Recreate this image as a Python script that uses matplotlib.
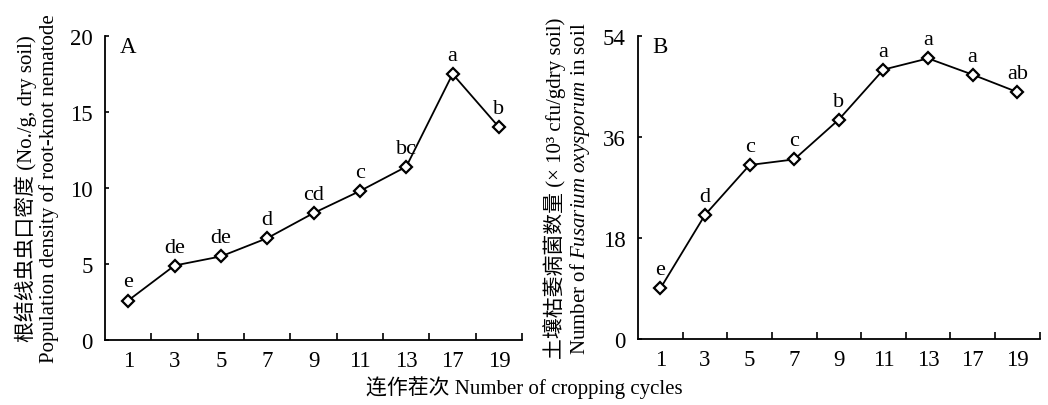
import matplotlib.pyplot as plt

plt.rcParams['font.family'] = ['Liberation Serif', 'Noto Sans CJK SC']
plt.rcParams['mathtext.fontset'] = 'custom'
plt.rcParams['mathtext.it'] = 'Liberation Serif:italic'
plt.rcParams['mathtext.rm'] = 'Liberation Serif'

# Data
cycles = ['1', '3', '5', '7', '9', '11', '13', '17', '19']
nematode = [2.6, 4.9, 5.5, 6.7, 8.35, 9.8, 11.4, 17.5, 14.0]
nematode_sig = ['e', 'de', 'de', 'd', 'cd', 'c', 'bc', 'a', 'b']
fusarium = [9.0, 22.1, 31.0, 32.0, 39.1, 48.0, 50.0, 47.1, 44.0]
fusarium_sig = ['e', 'd', 'c', 'c', 'b', 'a', 'a', 'a', 'ab']

fig = plt.figure(figsize=(10.48, 4.06), dpi=100)
ax1 = fig.add_axes([0.1002, 0.160, 0.398, 0.749])
ax2 = fig.add_axes([0.6088, 0.1626, 0.3832, 0.7464])


def draw(ax, vals, sig, ymax, yticks, panel, ylabel):
    x = list(range(len(cycles)))
    ax.plot(x, vals, color='black', lw=1.3, marker='D', ms=6.5,
            mfc='white', mec='black', mew=1.6, zorder=3)
    for xi, v, s in zip(x, vals, sig):
        ax.annotate(s, (xi, v), xytext=(0, 6.5), textcoords='offset points',
                    ha='center', va='bottom', fontsize=16)
    ax.set_xlim(-0.5, len(cycles) - 0.5)
    ax.set_ylim(0, ymax)
    ax.set_xticks([i + 0.5 for i in range(len(cycles))])
    ax.set_xticklabels([])
    ax.set_xticks(x, minor=True)
    ax.set_xticklabels(cycles, minor=True)
    ax.tick_params(axis='x', which='major', direction='in', length=5, width=1.2)
    ax.tick_params(axis='x', which='minor', length=0, pad=7, labelsize=16.5)
    ax.set_yticks(yticks)
    ax.tick_params(axis='y', direction='in', length=3, width=1.2, pad=9,
                   labelsize=16.5)
    for side in ['top', 'right']:
        ax.spines[side].set_visible(False)
    for side in ['left', 'bottom']:
        ax.spines[side].set_linewidth(1.3)
    ax.text(0.035, 1.0, panel, transform=ax.transAxes, fontsize=16.5,
            ha='left', va='top')
    ax.set_ylabel(ylabel, fontsize=15, labelpad=8, linespacing=1.1)


draw(ax1, nematode, nematode_sig, 20, [0, 5, 10, 15, 20], 'A',
     '根结线虫虫口密度 (No./g, dry soil)\nPopulation density of root-knot nematode')
draw(ax2, fusarium, fusarium_sig, 54, [0, 18, 36, 54], 'B',
     '土壤枯萎病菌数量 (× 10³ cfu/gdry soil)\nNumber of $\\it{Fusarium\\ oxysporum}$ in soil')

fig.text(0.5, 0.045, '连作茬次 Number of cropping cycles', ha='center',
         va='center', fontsize=15)

fig.savefig('out.png', dpi=100)
